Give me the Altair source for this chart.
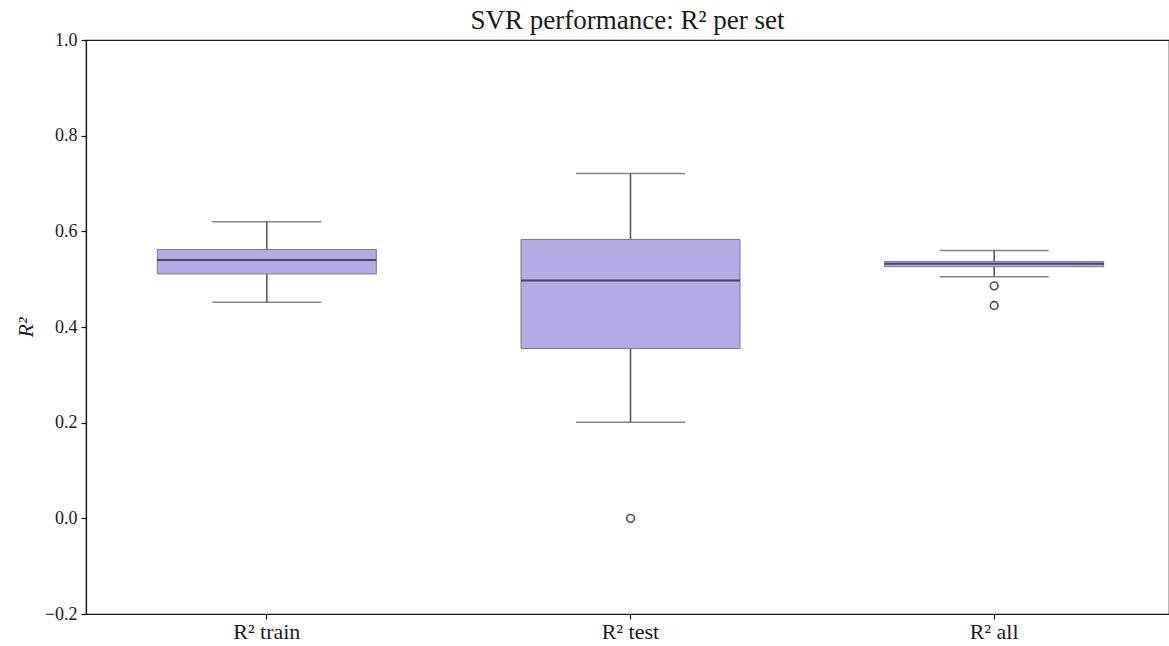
import altair as alt
import pandas as pd

categories = ["R² train", "R² test", "R² all"]
lower_whisker = [0.452, 0.201, 0.505]
q1 = [0.511, 0.355, 0.526]
median = [0.540, 0.497, 0.532]
q3 = [0.562, 0.583, 0.537]
upper_whisker = [0.620, 0.721, 0.560]

outlier_cats = ["R² test", "R² all", "R² all"]
outlier_vals = [0.0, 0.486, 0.445]

boxes = pd.DataFrame({
    "cat": categories,
    "lo": lower_whisker,
    "q1": q1,
    "med": median,
    "q3": q3,
    "hi": upper_whisker,
})
outs = pd.DataFrame({"cat": outlier_cats, "val": outlier_vals})

FONT = "Liberation Serif"
LINE = "#505050"
TXT = "#1a1a1a"

xenc = alt.X(
    "cat:N",
    sort=categories,
    scale=alt.Scale(range=[-1, 1090], paddingInner=0, paddingOuter=0),
    axis=alt.Axis(title=None, labelAngle=0, labelFontSize=22, labelFont=FONT,
                  labelColor=TXT, tickSize=5, tickColor=TXT, tickWidth=1.2,
                  domainColor=TXT, domainWidth=1.2, labelPadding=2, grid=False),
)
yscale = alt.Scale(domain=[-0.2, 1.0], nice=False, zero=False)
yaxis = alt.Axis(
    title="R²", values=[-0.2, 0.0, 0.2, 0.4, 0.6, 0.8, 1.0], format=".1f",
    labelFontSize=18, labelFont=FONT, labelColor=TXT,
    tickSize=5, tickColor=TXT, tickWidth=1.2, domainColor=TXT, domainWidth=1.2, grid=False,
    titleFont=FONT, titleFontSize=22, titleFontWeight="normal", titleFontStyle="italic",
    titleColor=TXT, titleX=-61, titleY=287, titleAngle=-90,
    titleAlign="center", titleBaseline="middle", labelPadding=4,
)

base = alt.Chart(boxes)

whisk_up = base.mark_rule(color=LINE, strokeWidth=1.5).encode(
    x=xenc, y=alt.Y("q3:Q", scale=yscale, axis=yaxis), y2="hi:Q")
whisk_lo = base.mark_rule(color=LINE, strokeWidth=1.5).encode(
    x=xenc, y=alt.Y("lo:Q", scale=yscale), y2="q1:Q")
cap_hi = base.mark_tick(color=LINE, size=109, thickness=1.5, orient="horizontal").encode(
    x=xenc, y=alt.Y("hi:Q", scale=yscale))
cap_lo = base.mark_tick(color=LINE, size=109, thickness=1.5, orient="horizontal").encode(
    x=xenc, y=alt.Y("lo:Q", scale=yscale))
box = base.mark_bar(size=219, color="#b3ace4", stroke="#7a7a8a", strokeWidth=1).encode(
    x=xenc, y=alt.Y("q1:Q", scale=yscale), y2="q3:Q")
med = base.mark_tick(color="#1c1930", size=219, thickness=2, orient="horizontal").encode(
    x=xenc, y=alt.Y("med:Q", scale=yscale))
pts = alt.Chart(outs).mark_point(shape="circle", size=60, filled=False, color=LINE,
                                 strokeWidth=1.6, opacity=1).encode(
    x=xenc, y=alt.Y("val:Q", scale=yscale))

chart = alt.layer(whisk_up, whisk_lo, cap_hi, cap_lo, box, med, pts).properties(
    width=1083,
    height=574,
    title=alt.TitleParams(
        "SVR performance: R² per set", font=FONT, fontSize=27, fontWeight="normal",
        color=TXT, anchor="middle", offset=5, dy=9,
    ),
    padding={"left": 86, "top": 40, "right": 0, "bottom": 32},
    autosize=alt.AutoSizeParams(type="none"),
).configure(background="white").configure_view(stroke=TXT, strokeWidth=1.2)

chart.save("out.html", embed_options={"renderer": "svg", "actions": False})
